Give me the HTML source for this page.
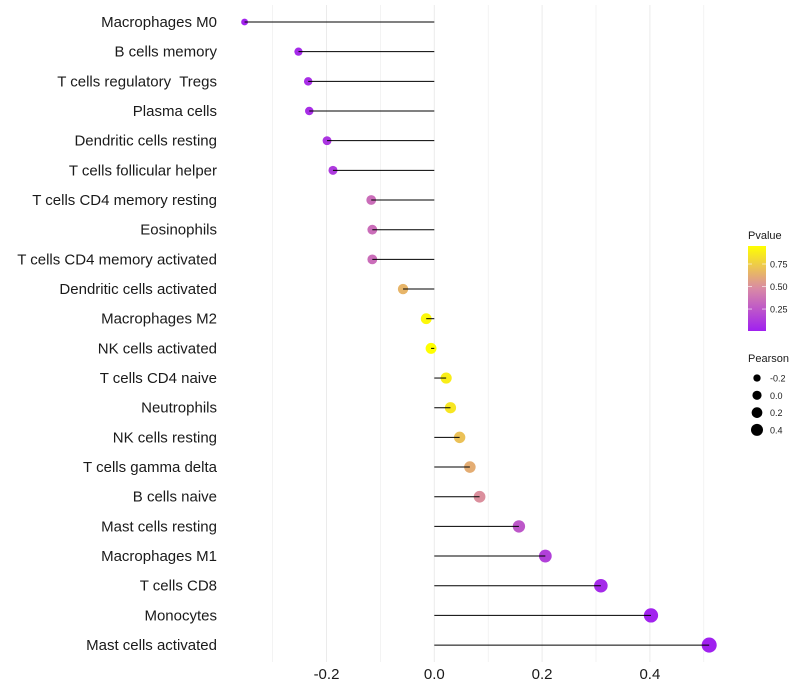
<!DOCTYPE html>
<html><head><meta charset="utf-8"><style>
body{margin:0;background:#fff;}
svg{display:block;font-family:"Liberation Sans",Arial,sans-serif;}
text{white-space:pre;}
</style></head><body>
<svg id="chart" width="800" height="700" viewBox="0 0 800 700">
<g id="grid"></g>
<g id="marks"></g>
<g id="ylabels"></g>
<g id="xlabels"></g>
<g id="legend"></g>
</svg>
<script>
const categories=["Macrophages M0","B cells memory","T cells regulatory  Tregs","Plasma cells","Dendritic cells resting","T cells follicular helper","T cells CD4 memory resting","Eosinophils","T cells CD4 memory activated","Dendritic cells activated","Macrophages M2","NK cells activated","T cells CD4 naive","Neutrophils","NK cells resting","T cells gamma delta","B cells naive","Mast cells resting","Macrophages M1","T cells CD8","Monocytes","Mast cells activated"];
const pearson=[-0.352,-0.252,-0.234,-0.232,-0.199,-0.188,-0.117,-0.115,-0.115,-0.058,-0.015,-0.006,0.022,0.030,0.047,0.066,0.084,0.157,0.206,0.309,0.402,0.510];
const pvalue=[0.02,0.05,0.07,0.07,0.10,0.12,0.35,0.35,0.35,0.65,0.92,0.97,0.88,0.85,0.70,0.62,0.50,0.25,0.15,0.05,0.02,0.01];
const xTicks=[-0.2,0.0,0.2,0.4];
const pTicks=[0.25,0.50,0.75];
const sizeTicks=[-0.2,0.0,0.2,0.4];

const NS="http://www.w3.org/2000/svg";
function mk(t,a,p){const e=document.createElementNS(NS,t);for(const k in a)e.setAttribute(k,a[k]);p.appendChild(e);return e;}
const x0=434.3,xs=539;
function X(v){return x0+v*xs;}
function Y(i){return 22+i*29.67;}
function R(v){return Math.sqrt(Math.max(3,30+52*v));}
function RL(v){return Math.sqrt(Math.max(3,21+38*v));}
const cLow=[160,32,240],cMid=[217,138,165],cHigh=[255,255,0];
function C(p){const t=Math.max(0,Math.min(1,(p-0.006)/(0.95-0.006)));let a,b,u;
 if(t<0.5){a=cLow;b=cMid;u=t/0.5;}else{a=cMid;b=cHigh;u=(t-0.5)/0.5;}
 return "rgb("+a.map((v,i)=>Math.round(v+(b[i]-v)*u)).join(",")+")";}

const grid=document.getElementById('grid');
for(let v=-0.3;v<=0.51;v+=0.1){const vv=Math.round(v*10)/10;
 const l=mk('line',{x1:X(vv),x2:X(vv),y1:5,y2:662,stroke:'#ebebeb','stroke-width':Math.abs(vv*10)%2===0?1:0.6},grid);
 
 }

const marks=document.getElementById('marks'),yl=document.getElementById('ylabels');
categories.forEach((c,i)=>{
 const y=Y(i);
 const pt=mk('circle',{cx:X(pearson[i]),cy:y,r:R(pearson[i]),fill:C(pvalue[i])},marks);
 
 
 const ln=mk('line',{x1:X(0),x2:X(pearson[i]),y1:y,y2:y,stroke:'#000','stroke-width':1},marks);
 
 
 const t=mk('text',{x:217,y:y+5,'text-anchor':'end','font-size':15,fill:'#1a1a1a'},yl);
 t.textContent=c;
 
 
});
const xl=document.getElementById('xlabels');
xTicks.forEach(v=>{const t=mk('text',{x:X(v),y:679,'text-anchor':'middle','font-size':15,fill:'#1a1a1a'},xl);
 t.textContent=v.toFixed(1);
 
 });

const lg=document.getElementById('legend');
const ti=mk('text',{x:748,y:239,'font-size':11,fill:'#1a1a1a'},lg);ti.textContent='Pvalue';


const defs=mk('defs',{},lg);
const gr=mk('linearGradient',{id:'pg',x1:0,y1:1,x2:0,y2:0},defs);
mk('stop',{offset:0,'stop-color':C(0.006)},gr);mk('stop',{offset:0.5,'stop-color':C(0.478)},gr);mk('stop',{offset:1,'stop-color':C(0.95)},gr);
const bar=mk('rect',{x:748,y:246,width:18,height:85,fill:'url(#pg)'},lg);


function PY(p){return 331-(p-0.006)/(0.944)*85;}
pTicks.forEach(p=>{const y=PY(p);
 mk('line',{x1:748,x2:752,y1:y,y2:y,stroke:'#fff','stroke-width':0.6},lg);
 mk('line',{x1:762,x2:766,y1:y,y2:y,stroke:'#fff','stroke-width':0.6},lg);
 const t=mk('text',{x:770,y:y+3.5,'font-size':9,fill:'#1a1a1a'},lg);t.textContent=p.toFixed(2);
 
 });
const t2=mk('text',{x:748,y:362,'font-size':11,fill:'#1a1a1a'},lg);t2.textContent='Pearson';


sizeTicks.forEach((v,i)=>{const y=378+i*17.3;
 const c=mk('circle',{cx:757,cy:y,r:RL(v),fill:'#000'},lg);
 
 
 const t=mk('text',{x:770,y:y+3.5,'font-size':9,fill:'#1a1a1a'},lg);t.textContent=v.toFixed(1);
 
 });
</script>
</body></html>
